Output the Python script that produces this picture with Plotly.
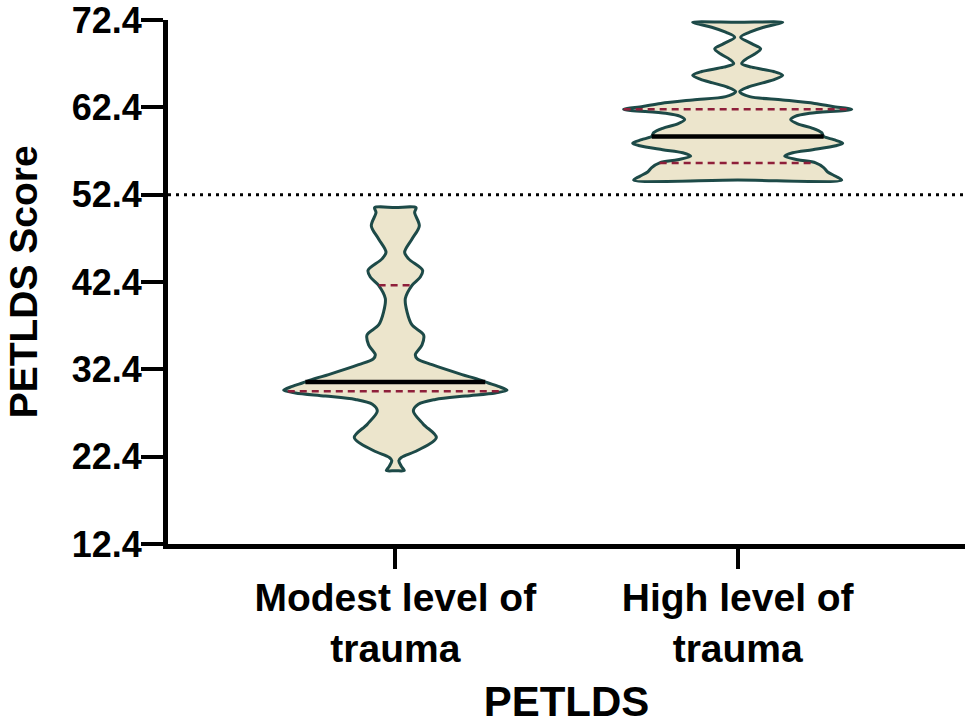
import numpy as np
import plotly.graph_objects as go

# ---------------- data ----------------
groups = ["Modest level of<br>trauma", "High level of<br>trauma"]

modest_scores = [20.8, 21.3, 21.95, 22.3, 23.1, 24.59, 26.12, 27.63, 28.4, 28.95, 29.35,
                 29.7, 30.01, 30.45, 30.84, 31.35, 31.8, 32.93, 33.6, 34.07, 35.2, 36.34,
                 37.48, 38.99, 40.5, 42.02, 42.97, 43.73, 45.05, 45.81, 47.32, 48.84,
                 50.35, 50.92]
modest_density = [9, 6, 3.5, 6, 22, 41, 28, 18, 23, 40, 70,
                  100, 111.7, 103, 93, 80, 66.7, 36.7, 22, 20, 26.7, 28.3,
                  16.7, 11.7, 10, 16.7, 25, 27.3, 13.3, 9.3, 16.7, 24,
                  19.3, 20.7]

high_scores = [54.07, 54.5, 55.0, 55.5, 56.04, 56.4, 56.8, 57.2, 57.55, 58.0, 58.3, 58.7,
               59.07, 59.5, 60.0, 60.5, 61.0, 61.4, 61.72, 62.17, 62.5, 62.85, 63.25,
               63.62, 64.18, 64.7, 65.2, 65.6, 66.07, 66.5, 67.0, 67.4, 67.9, 68.5, 69.1,
               69.7, 70.43, 71.0, 71.57, 71.9, 72.14]
high_density = [104, 98, 90, 86, 78, 60, 47, 55, 75, 98, 105, 96,
                86, 84, 75, 60, 53, 58, 72, 114, 95, 77, 45,
                12, 2, 10, 25, 37, 45, 36, 14, 4, 8, 17, 23,
                14, 3, 12, 26, 38, 45]

modest_stats = {"q1": 29.9, "median": 30.96, "q3": 42.02}
high_stats = {"q1": 56.04, "median": 59.07, "q3": 62.17}

cutoff = 52.4
y_ticks = [12.4, 22.4, 32.4, 42.4, 52.4, 62.4, 72.4]
x_title = "PETLDS"
y_title = "PETLDS Score"

# ---------------- style ----------------
FILL = "#ECE5CC"
EDGE = "#1D4A48"
QCOL = "#8E1F3A"
MAX_HALF = 0.333
FONT = "Liberation Sans, Arial, Helvetica, sans-serif"

fig = go.Figure()
dmax = max(max(modest_density), max(high_density))

for i, (scores, dens, stats) in enumerate([(modest_scores, modest_density, modest_stats),
                                            (high_scores, high_density, high_stats)]):
    s = np.array(scores, dtype=float)
    hw = np.array(dens, dtype=float) / dmax * MAX_HALF
    xs = np.concatenate([[i], i + hw, [i], (i - hw)[::-1], [i]])
    ys = np.concatenate([[s[0]], s, [s[-1]], s[::-1], [s[0]]])
    fig.add_trace(go.Scatter(x=xs, y=ys, mode="lines", fill="toself", fillcolor=FILL,
                             line=dict(color=EDGE, width=3, shape="spline", smoothing=0.9),
                             hoverinfo="skip"))
    for key in ("q1", "q3"):
        w = np.interp(stats[key], s, hw)
        fig.add_trace(go.Scatter(x=[i - w, i + w], y=[stats[key]] * 2, mode="lines",
                                 line=dict(color=QCOL, width=2.5, dash="7px,5px"),
                                 hoverinfo="skip"))
    w = np.interp(stats["median"], s, hw)
    fig.add_trace(go.Scatter(x=[i - w, i + w], y=[stats["median"]] * 2, mode="lines",
                             line=dict(color="black", width=4.5), hoverinfo="skip"))

fig.add_shape(type="line", xref="paper", x0=0, x1=1, yref="y", y0=cutoff, y1=cutoff,
              line=dict(color="black", width=3, dash="3px,5px"))

fig.add_annotation(text=y_title, textangle=-90, xref="paper", yref="paper",
                   x=-0.1815, y=0.5, xanchor="center", yanchor="middle", showarrow=False,
                   borderpad=0,
                   font=dict(size=39, weight="bold", family=FONT, color="black"))

fig.update_layout(
    width=968, height=725,
    margin=dict(l=168, r=3, t=20, b=181, autoexpand=False),
    plot_bgcolor="white", paper_bgcolor="white",
    showlegend=False,
    font=dict(family=FONT, color="black"),
    xaxis=dict(range=[-0.664, 1.664], tickvals=[0, 1], ticktext=groups,
               ticks="outside", ticklen=20, tickwidth=4, tickcolor="black",
               showline=True, linewidth=5, linecolor="black", automargin=False,
               showgrid=False, zeroline=False, ticklabelstandoff=-5,
               tickfont=dict(size=39, weight="bold", family=FONT),
               title=dict(text=x_title, font=dict(size=42, weight="bold", family=FONT),
                          standoff=20)),
    yaxis=dict(range=[12.4, 72.4], tickvals=y_ticks,
               ticktext=[f"{v:.1f}" for v in y_ticks],
               ticks="outside", ticklen=22, tickwidth=4, tickcolor="black",
               showline=True, linewidth=5, linecolor="black", automargin=False,
               showgrid=False, zeroline=False, ticklabelstandoff=-8,
               ticklabeloverflow="allow",
               tickfont=dict(size=36, weight="bold", family=FONT)),
)

fig.write_html("out.html")
